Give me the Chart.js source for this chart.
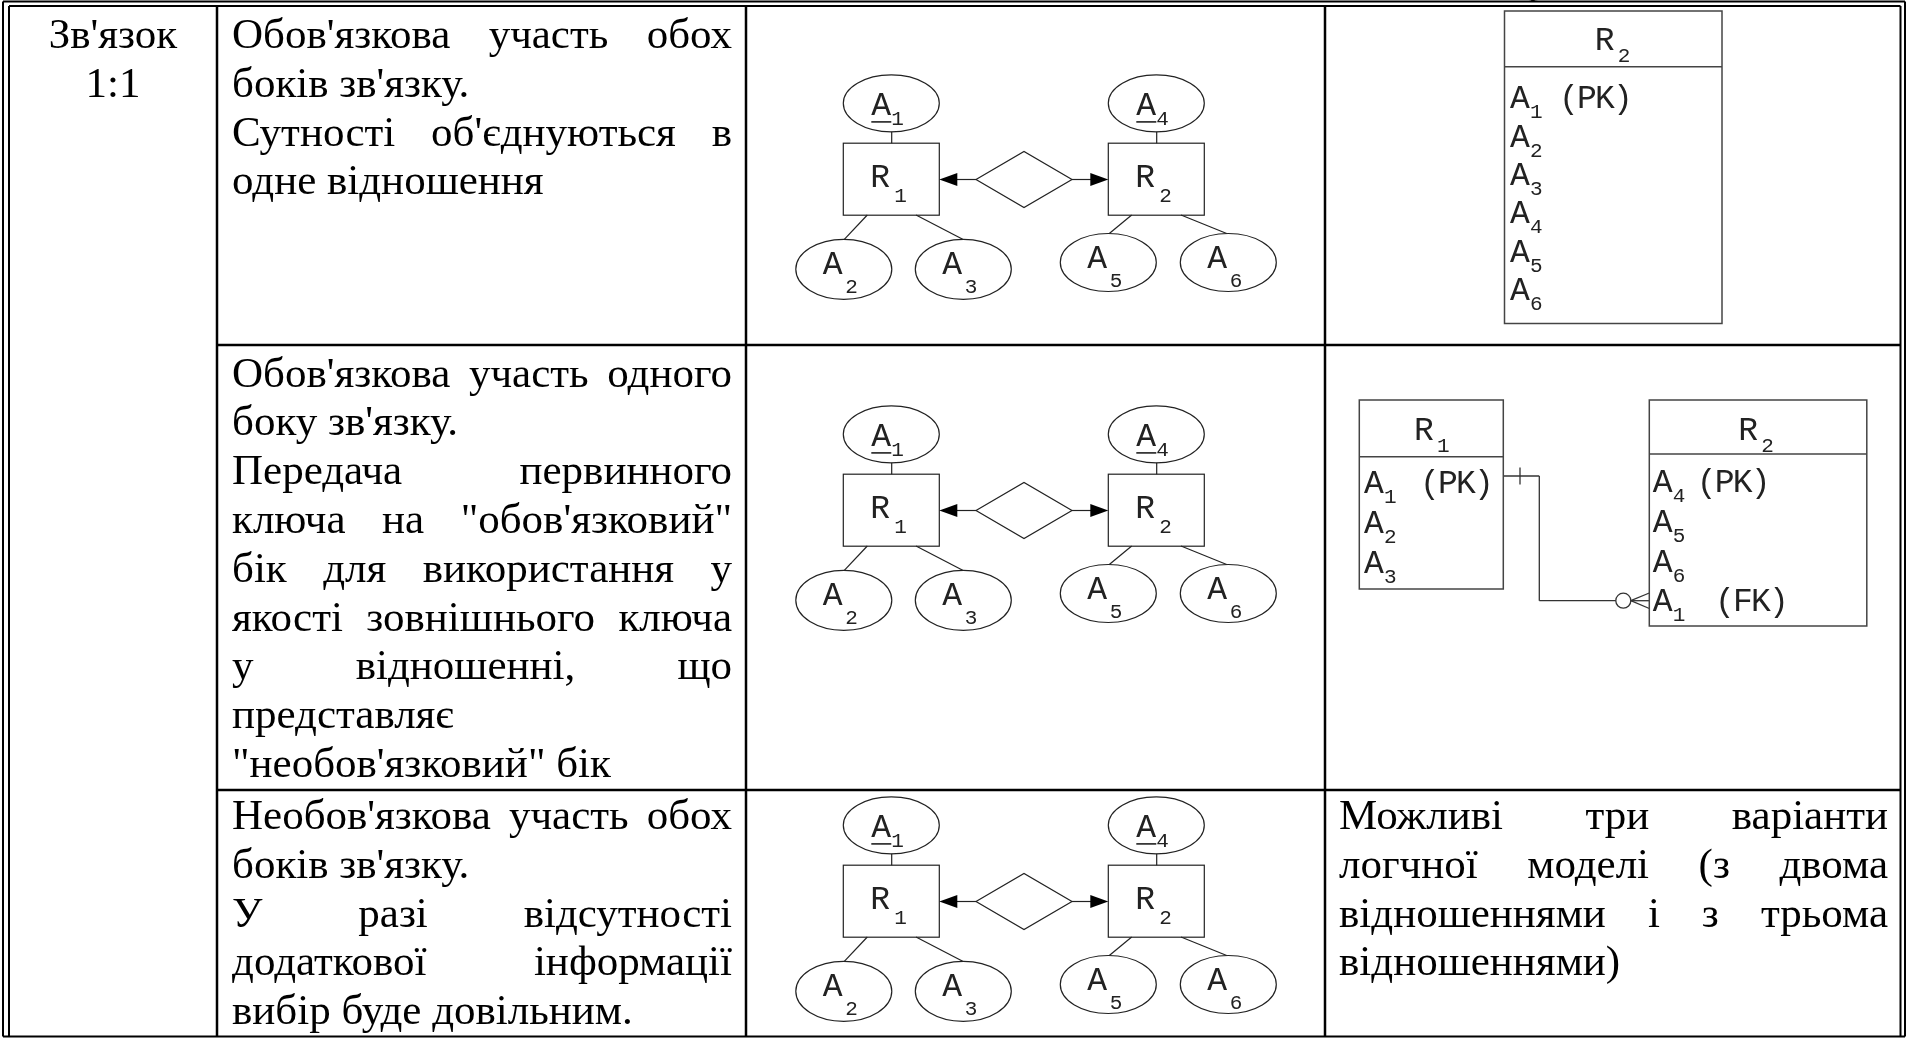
<!DOCTYPE html>
<html>
<head>
<meta charset="utf-8">
<title>Зв'язок 1:1</title>
<script src="https://cdn.jsdelivr.net/npm/chart.js@4.4.1/dist/chart.umd.min.js"></script>
<style>
  html, body { margin: 0; padding: 0; background: #fff; overflow: hidden; }
  #wrap { width: 1907px; height: 1038px; }
</style>
</head>
<body>
<div id="wrap"><canvas id="sheet" width="1907" height="1038"></canvas></div>
<script>
// ---- table content ----
const relationKind = ["Зв'язок", "1:1"];
const caseRows = [
    [["Обов'язкова участь обох", "боків зв'язку."],
     ["Сутності об'єднуються в", "одне відношення"]],
    [["Обов'язкова участь одного", "боку зв'язку."],
     ["Передача первинного", "ключа на \"обов'язковий\"", "бік для використання у",
      "якості зовнішнього ключа", "у відношенні, що", "представляє", "\"необов'язковий\" бік"]],
    [["Необов'язкова участь обох", "боків зв'язку."],
     ["У разі відсутності", "додаткової інформації", "вибір буде довільним."]]
];
const logicalNote = [["Можливі три варіанти", "логчної моделі (з двома", "відношеннями і з трьома", "відношеннями)"]];

// ER diagram content (same diagram in each row)
const erEntityNames = ['R1', 'R2'];
const erAttributeNames = ['A1', 'A4', 'A2', 'A3', 'A5', 'A6'];
const erKeys = ['A1', 'A4'];

// relational schemas
const schemaTitles = ['R2', 'R1', 'R2'];
const schemaAttributes = [
    ['A1 (PK)', 'A2', 'A3', 'A4', 'A5', 'A6'],
    ['A1 (PK)', 'A2', 'A3'],
    ['A4 (PK)', 'A5', 'A6', 'A1 (FK)']
];

// ---- layout, in sheet units (1 unit = 1 px of the page) ----
const sheetW = 1907, sheetH = 1038;
const ruleCols = [217, 746, 1325];
const ruleRows = [345, 790];
const frameOuter = { l: 3, t: 1.5, r: 1905, b: 1036.5 };
const frameInner = { l: 9, t: 6, r: 1900.5 };
const rowBaselines = [48, 386.5, 829];
const lineStep = 48.8;
const textCol = [232, 732];
const noteCol = [1339, 1888];
const kindCenter = 113;

const serifSize = 43;
const monoSize = 33, subSize = 21;

const erShift = [0, 331, 722];
const erEntityPos = [[891.3, 179.2], [1156.3, 179.2]];
const erEntitySize = [96, 72];
const erAttrPos = [[891.3, 103.3, 28.5], [1156.3, 103.3, 28.5], [843.8, 269.3, 30],
                   [963.3, 269.3, 30], [1108.3, 262.5, 29], [1228.3, 262.5, 29]];
const erAttrRx = 48;
const erLinks = [[891.7, 131.8, 891.7, 143.3], [1156.7, 131.8, 1156.7, 143.3],
                 [867.3, 215, 844.3, 239.3], [916, 215, 962.7, 239.3],
                 [1131.7, 215, 1109.3, 233.5], [1181, 215, 1226.7, 233.5]];
const erDiamond = [1024, 179.5, 48, 28];

const schemaBoxes = [
    { l: 1504.5, r: 1722, t: 11, b: 323.5, head: 66.7, titleX: 1594.7, titleY: 50, attrX: 1510,
      rows: [108.3, 146.7, 185, 223, 261.5, 300], noteX: [1559] },
    { l: 1359.3, r: 1503.3, t: 400, b: 589, head: 456.7, titleX: 1414, titleY: 440, attrX: 1364,
      rows: [493, 533, 573], noteX: [1420] },
    { l: 1649.3, r: 1866.8, t: 400, b: 626, head: 454, titleX: 1738.3, titleY: 440, attrX: 1652.7,
      rows: [491.7, 532, 571.5, 610.5], noteX: [1696.7, 0, 0, 1715] }
];
const fkLines = [[1503.3, 476, 1539.3, 476], [1539.3, 476, 1539.3, 600.7], [1539.3, 600.7, 1615.8, 600.7],
                 [1520, 467.5, 1520, 484.5], [1630.8, 600.7, 1649.3, 593], [1630.8, 600.7, 1649.3, 608.5],
                 [1630.8, 600.7, 1649.3, 600.7]];
const fkCircle = [1623.3, 600.7, 7.5];

// ---- datasets: every straight rule is a two-point line ----
const datasets = [];
function seg(x1, y1, x2, y2, color, width) {
    datasets.push({
        data: [{ x: x1, y: y1 }, { x: x2, y: y2 }],
        showLine: true, borderColor: color, borderWidth: width,
        pointRadius: 0, pointHoverRadius: 0, fill: false
    });
}

const fo = frameOuter, fi = frameInner;
seg(fo.l, fo.t, fo.r, fo.t, '#000', 2);
seg(fo.l, fo.t, fo.l, fo.b, '#000', 2);
seg(fo.r, fo.t, fo.r, fo.b, '#000', 2);
seg(fo.l, fo.b, fo.r, fo.b, '#000', 2);
seg(fi.l, fi.t, fi.r, fi.t, '#000', 2);
seg(fi.l, fi.t, fi.l, fo.b, '#000', 2);
seg(fi.r, fi.t, fi.r, fo.b, '#000', 2);
ruleCols.forEach(x => seg(x, fi.t, x, fo.b, '#000', 2.5));
ruleRows.forEach(y => seg(ruleCols[0], y, fi.r, y, '#000', 2.5));

erShift.forEach(s => {
    erLinks.forEach(l => seg(l[0], l[1] + s, l[2], l[3] + s, '#222', 1.2));
    const [dx, dy, dw] = erDiamond;
    seg(dx - dw, dy + s, erEntityPos[0][0] + erEntitySize[0] / 2 + 10, dy + s, '#222', 1.2);
    seg(dx + dw, dy + s, erEntityPos[1][0] - erEntitySize[0] / 2 - 10, dy + s, '#222', 1.2);
});
fkLines.forEach(l => seg(l[0], l[1], l[2], l[3], '#333', 1.3));

// ---- shapes and text drawn through the same scales ----
const sheetPainter = {
    id: 'sheetPainter',
    afterDatasetsDraw(chart) {
        const ctx = chart.ctx;
        const X = v => chart.scales.x.getPixelForValue(v);
        const Y = v => chart.scales.y.getPixelForValue(v);
        ctx.save();
        ctx.textBaseline = 'alphabetic';
        ctx.fillStyle = '#000';

        // serif text, justified like the source document
        ctx.font = serifSize + 'px "Liberation Serif", "Times New Roman", serif';
        const space = ctx.measureText(' ').width;
        function paragraphs(paras, col, base) {
            paras.forEach(lines => {
                lines.forEach((line, i) => {
                    const words = line.split(' ');
                    const x0 = X(col[0]), x1 = X(col[1]);
                    if (i === lines.length - 1 || words.length < 2) {
                        ctx.fillText(line, x0, Y(base));
                    } else {
                        const total = words.reduce((s, w) => s + ctx.measureText(w).width, 0);
                        const gap = Math.max(space * 0.8, (x1 - x0 - total) / (words.length - 1));
                        let x = x0;
                        words.forEach(w => { ctx.fillText(w, x, Y(base)); x += ctx.measureText(w).width + gap; });
                    }
                    base += lineStep;
                });
            });
        }
        ctx.textAlign = 'center';
        relationKind.forEach((t, i) => ctx.fillText(t, X(kindCenter), Y(rowBaselines[0] + i * lineStep)));
        ctx.textAlign = 'left';
        caseRows.forEach((paras, r) => paragraphs(paras, textCol, rowBaselines[r]));
        paragraphs(logicalNote, noteCol, rowBaselines[2]);
        ctx.fillText('р', X(1528), Y(-7));

        // monospace labels
        const mono = monoSize + 'px "Liberation Mono", "Courier New", monospace';
        const monoSub = subSize + 'px "Liberation Mono", "Courier New", monospace';
        ctx.fillStyle = '#222';
        function label(main, sub, x, y, subX, subY) {
            ctx.font = mono;
            ctx.fillText(main, X(x), Y(y));
            ctx.font = monoSub;
            ctx.fillText(sub, X(subX), Y(subY));
        }

        ctx.strokeStyle = '#222';
        ctx.lineWidth = 1.2;
        erShift.forEach(s => {
            erEntityPos.forEach(([cx, cy], i) => {
                const [w, h] = erEntitySize;
                ctx.strokeRect(X(cx - w / 2), Y(cy - h / 2 + s), X(cx + w / 2) - X(cx - w / 2), Y(cy + h / 2 + s) - Y(cy - h / 2 + s));
                const n = erEntityNames[i];
                label(n[0], n.slice(1), cx - 21, cy + 8 + s, cx + 3, cy + 22.5 + s);
            });
            erAttrPos.forEach(([cx, cy, ry], i) => {
                ctx.beginPath();
                ctx.ellipse(X(cx), Y(cy + s), erAttrRx, ry, 0, 0, Math.PI * 2);
                ctx.stroke();
                const n = erAttributeNames[i];
                if (erKeys.includes(n)) {
                    label(n[0], n.slice(1), cx - 20, cy + 11.7 + s, cx, cy + 21.7 + s);
                    ctx.fillRect(X(cx - 20), Y(cy + 17.8 + s), X(cx) - X(cx - 20), 1.6);
                } else {
                    label(n[0], n.slice(1), cx - 21, cy + 5 + s, cx + 1.5, cy + 24 + s);
                }
            });
            const [dx, dy, dw, dh] = erDiamond;
            ctx.beginPath();
            ctx.moveTo(X(dx - dw), Y(dy + s));
            ctx.lineTo(X(dx), Y(dy - dh + s));
            ctx.lineTo(X(dx + dw), Y(dy + s));
            ctx.lineTo(X(dx), Y(dy + dh + s));
            ctx.closePath();
            ctx.stroke();
            // arrow heads at both entities
            const tipL = erEntityPos[0][0] + erEntitySize[0] / 2, tipR = erEntityPos[1][0] - erEntitySize[0] / 2;
            ctx.fillStyle = '#000';
            [[tipL, 18], [tipR, -18]].forEach(([tx, len]) => {
                ctx.beginPath();
                ctx.moveTo(X(tx), Y(dy + s));
                ctx.lineTo(X(tx + len), Y(dy - 6.5 + s));
                ctx.lineTo(X(tx + len), Y(dy + 6.5 + s));
                ctx.closePath();
                ctx.fill();
            });
            ctx.fillStyle = '#222';
        });

        // relational schemas
        ctx.strokeStyle = '#444';
        ctx.lineWidth = 1.5;
        schemaBoxes.forEach((b, i) => {
            ctx.strokeRect(X(b.l), Y(b.t), X(b.r) - X(b.l), Y(b.b) - Y(b.t));
            ctx.beginPath();
            ctx.moveTo(X(b.l), Y(b.head));
            ctx.lineTo(X(b.r), Y(b.head));
            ctx.stroke();
            const t = schemaTitles[i];
            label(t[0], t.slice(1), b.titleX, b.titleY, b.titleX + 23, b.titleY + 12);
            schemaAttributes[i].forEach((a, k) => {
                const [name, note] = a.split(' ');
                const y = b.rows[k];
                label(name[0], name.slice(1), b.attrX, y, b.attrX + 20, y + 10);
                if (note) {
                    ctx.font = mono;
                    ctx.letterSpacing = '-1.8px';
                    ctx.fillText(note, X(b.noteX[k]), Y(y));
                    ctx.letterSpacing = '0px';
                }
            });
        });
        ctx.strokeStyle = '#333';
        ctx.lineWidth = 1.3;
        ctx.beginPath();
        ctx.arc(X(fkCircle[0]), Y(fkCircle[1]), fkCircle[2], 0, Math.PI * 2);
        ctx.stroke();
        ctx.restore();
    }
};

new Chart(document.getElementById('sheet'), {
    type: 'scatter',
    data: { datasets: datasets },
    options: {
        responsive: false,
        animation: false,
        layout: { padding: 0 },
        plugins: { legend: { display: false }, tooltip: { enabled: false } },
        scales: {
            x: { type: 'linear', min: 0, max: sheetW, display: false },
            y: { type: 'linear', min: 0, max: sheetH, reverse: true, display: false }
        }
    },
    plugins: [sheetPainter]
});
</script>
</body>
</html>
